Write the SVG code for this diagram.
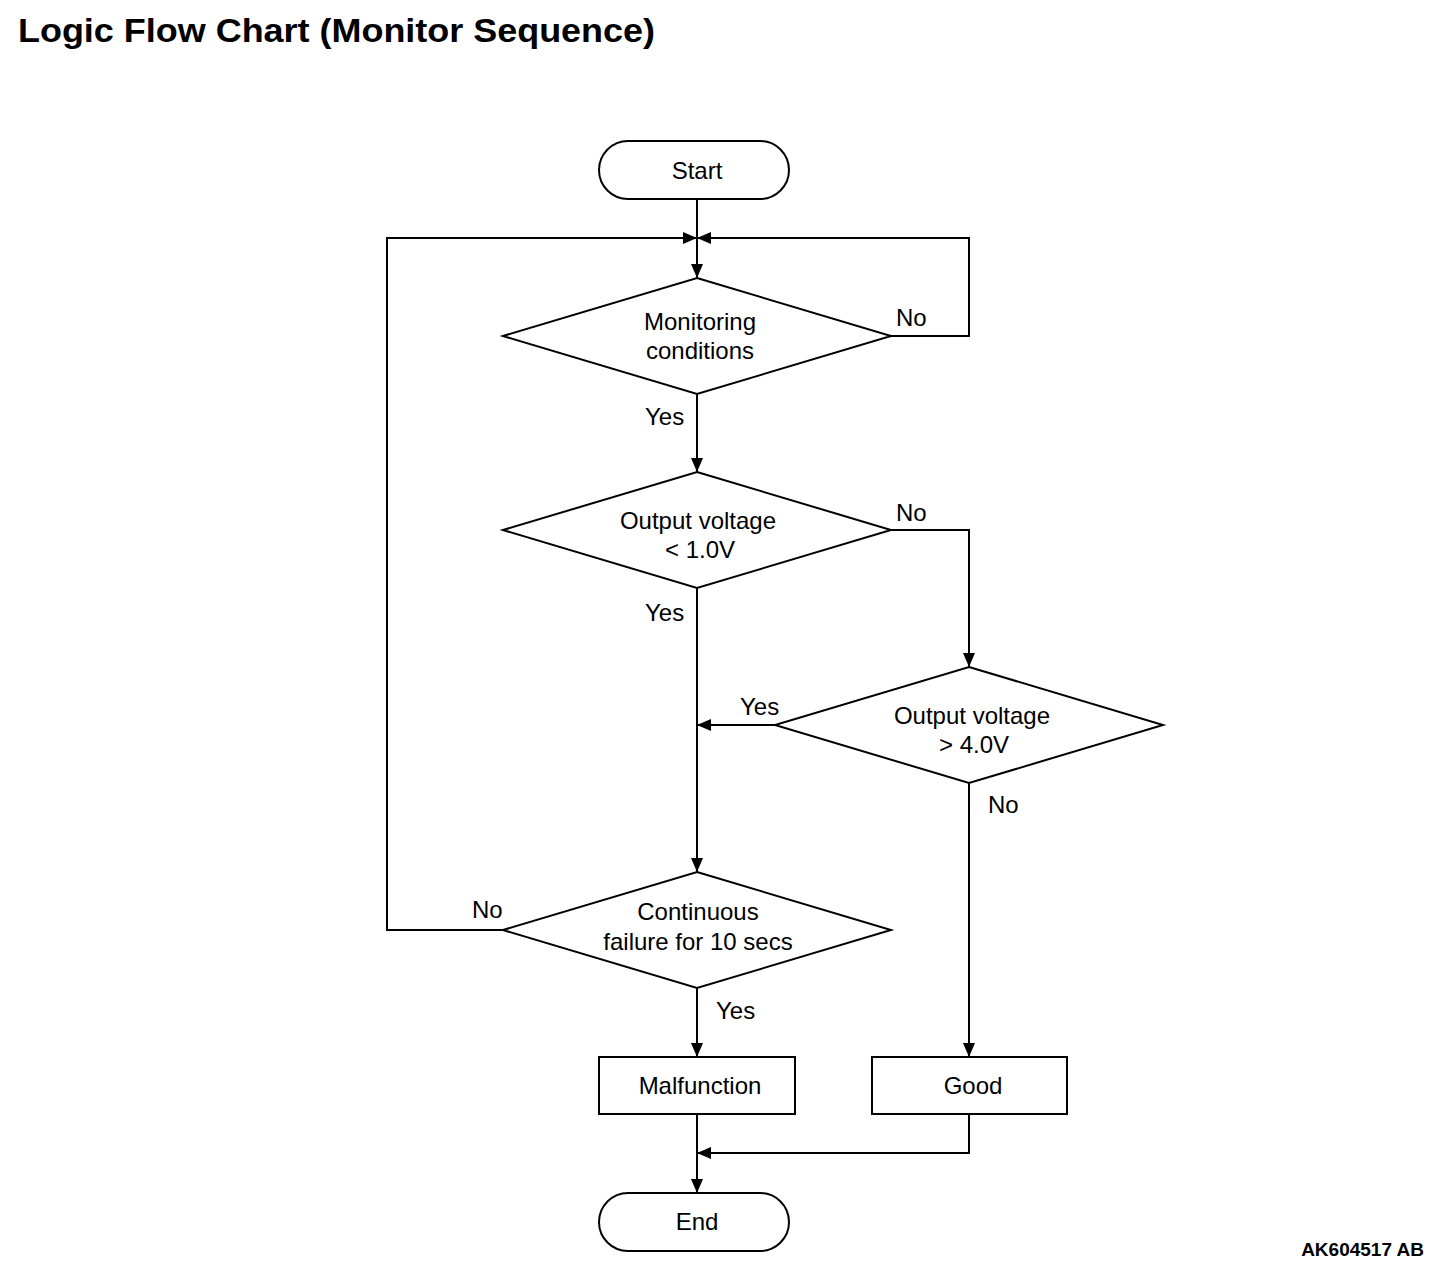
<svg xmlns="http://www.w3.org/2000/svg" width="1456" height="1274" viewBox="0 0 1456 1274">
<style>
.s{fill:#fff;stroke:#000;stroke-width:2}
.l{fill:none;stroke:#000;stroke-width:2}
.t{font-family:"Liberation Sans",Arial,sans-serif;font-size:24px;fill:#000}
.c{text-anchor:middle}
</style>
<defs>
<marker id="a" viewBox="0 0 14 12" refX="14" refY="6" markerWidth="14" markerHeight="12" markerUnits="userSpaceOnUse" orient="auto">
<path d="M0,0 L14,6 L0,12 Z" fill="#000"/>
</marker>
</defs>
<rect width="1456" height="1274" fill="#fff"/>
<text x="18" y="42" font-family="Liberation Sans,Arial,sans-serif" font-weight="bold" font-size="34" textLength="637" lengthAdjust="spacingAndGlyphs">Logic Flow Chart (Monitor Sequence)</text>
<text x="1424" y="1256" font-family="Liberation Sans,Arial,sans-serif" font-weight="bold" font-size="19" text-anchor="end">AK604517 AB</text>
<g id="connectors">
<path class="l" d="M697,199 V278" marker-end="url(#a)"/>
<path class="l" d="M891,336 H969 V238 H697" marker-end="url(#a)"/>
<path class="l" d="M503,930 H387 V238 H697" marker-end="url(#a)"/>
<path class="l" d="M697,394 V472" marker-end="url(#a)"/>
<path class="l" d="M891,530 H969 V667" marker-end="url(#a)"/>
<path class="l" d="M775,725 H697" marker-end="url(#a)"/>
<path class="l" d="M697,588 V872" marker-end="url(#a)"/>
<path class="l" d="M697,988 V1057" marker-end="url(#a)"/>
<path class="l" d="M969,783 V1057" marker-end="url(#a)"/>
<path class="l" d="M969,1114 V1153 H697" marker-end="url(#a)"/>
<path class="l" d="M697,1114 V1193" marker-end="url(#a)"/>
<text class="t" x="896" y="326">No</text>
<text class="t" x="645" y="425">Yes</text>
<text class="t" x="896" y="521">No</text>
<text class="t" x="645" y="621">Yes</text>
<text class="t" x="740" y="715">Yes</text>
<text class="t" x="988" y="813">No</text>
<text class="t" x="472" y="918">No</text>
<text class="t" x="716" y="1019">Yes</text>
</g>
<g id="start">
<rect class="s" x="599" y="141" width="190" height="58" rx="29"/>
<text class="t c" x="697" y="179">Start</text>
</g>
<g id="d1">
<polygon class="s" points="697,278 891,336 697,394 503,336"/>
<text class="t c" x="700" y="330">Monitoring</text>
<text class="t c" x="700" y="359">conditions</text>
</g>
<g id="d2">
<polygon class="s" points="697,472 891,530 697,588 503,530"/>
<text class="t c" x="698" y="529">Output voltage</text>
<text class="t c" x="700" y="558">&lt; 1.0V</text>
</g>
<g id="d3">
<polygon class="s" points="969,667 1163,725 969,783 775,725"/>
<text class="t c" x="972" y="724">Output voltage</text>
<text class="t c" x="974" y="753">&gt; 4.0V</text>
</g>
<g id="d4">
<polygon class="s" points="697,872 891,930 697,988 503,930"/>
<text class="t c" x="698" y="920">Continuous</text>
<text class="t c" x="698" y="950">failure for 10 secs</text>
</g>
<g id="malfunction">
<rect class="s" x="599" y="1057" width="196" height="57"/>
<text class="t c" x="700" y="1094">Malfunction</text>
</g>
<g id="good">
<rect class="s" x="872" y="1057" width="195" height="57"/>
<text class="t c" x="973" y="1094">Good</text>
</g>
<g id="end">
<rect class="s" x="599" y="1193" width="190" height="58" rx="29"/>
<text class="t c" x="697" y="1230">End</text>
</g>
</svg>
